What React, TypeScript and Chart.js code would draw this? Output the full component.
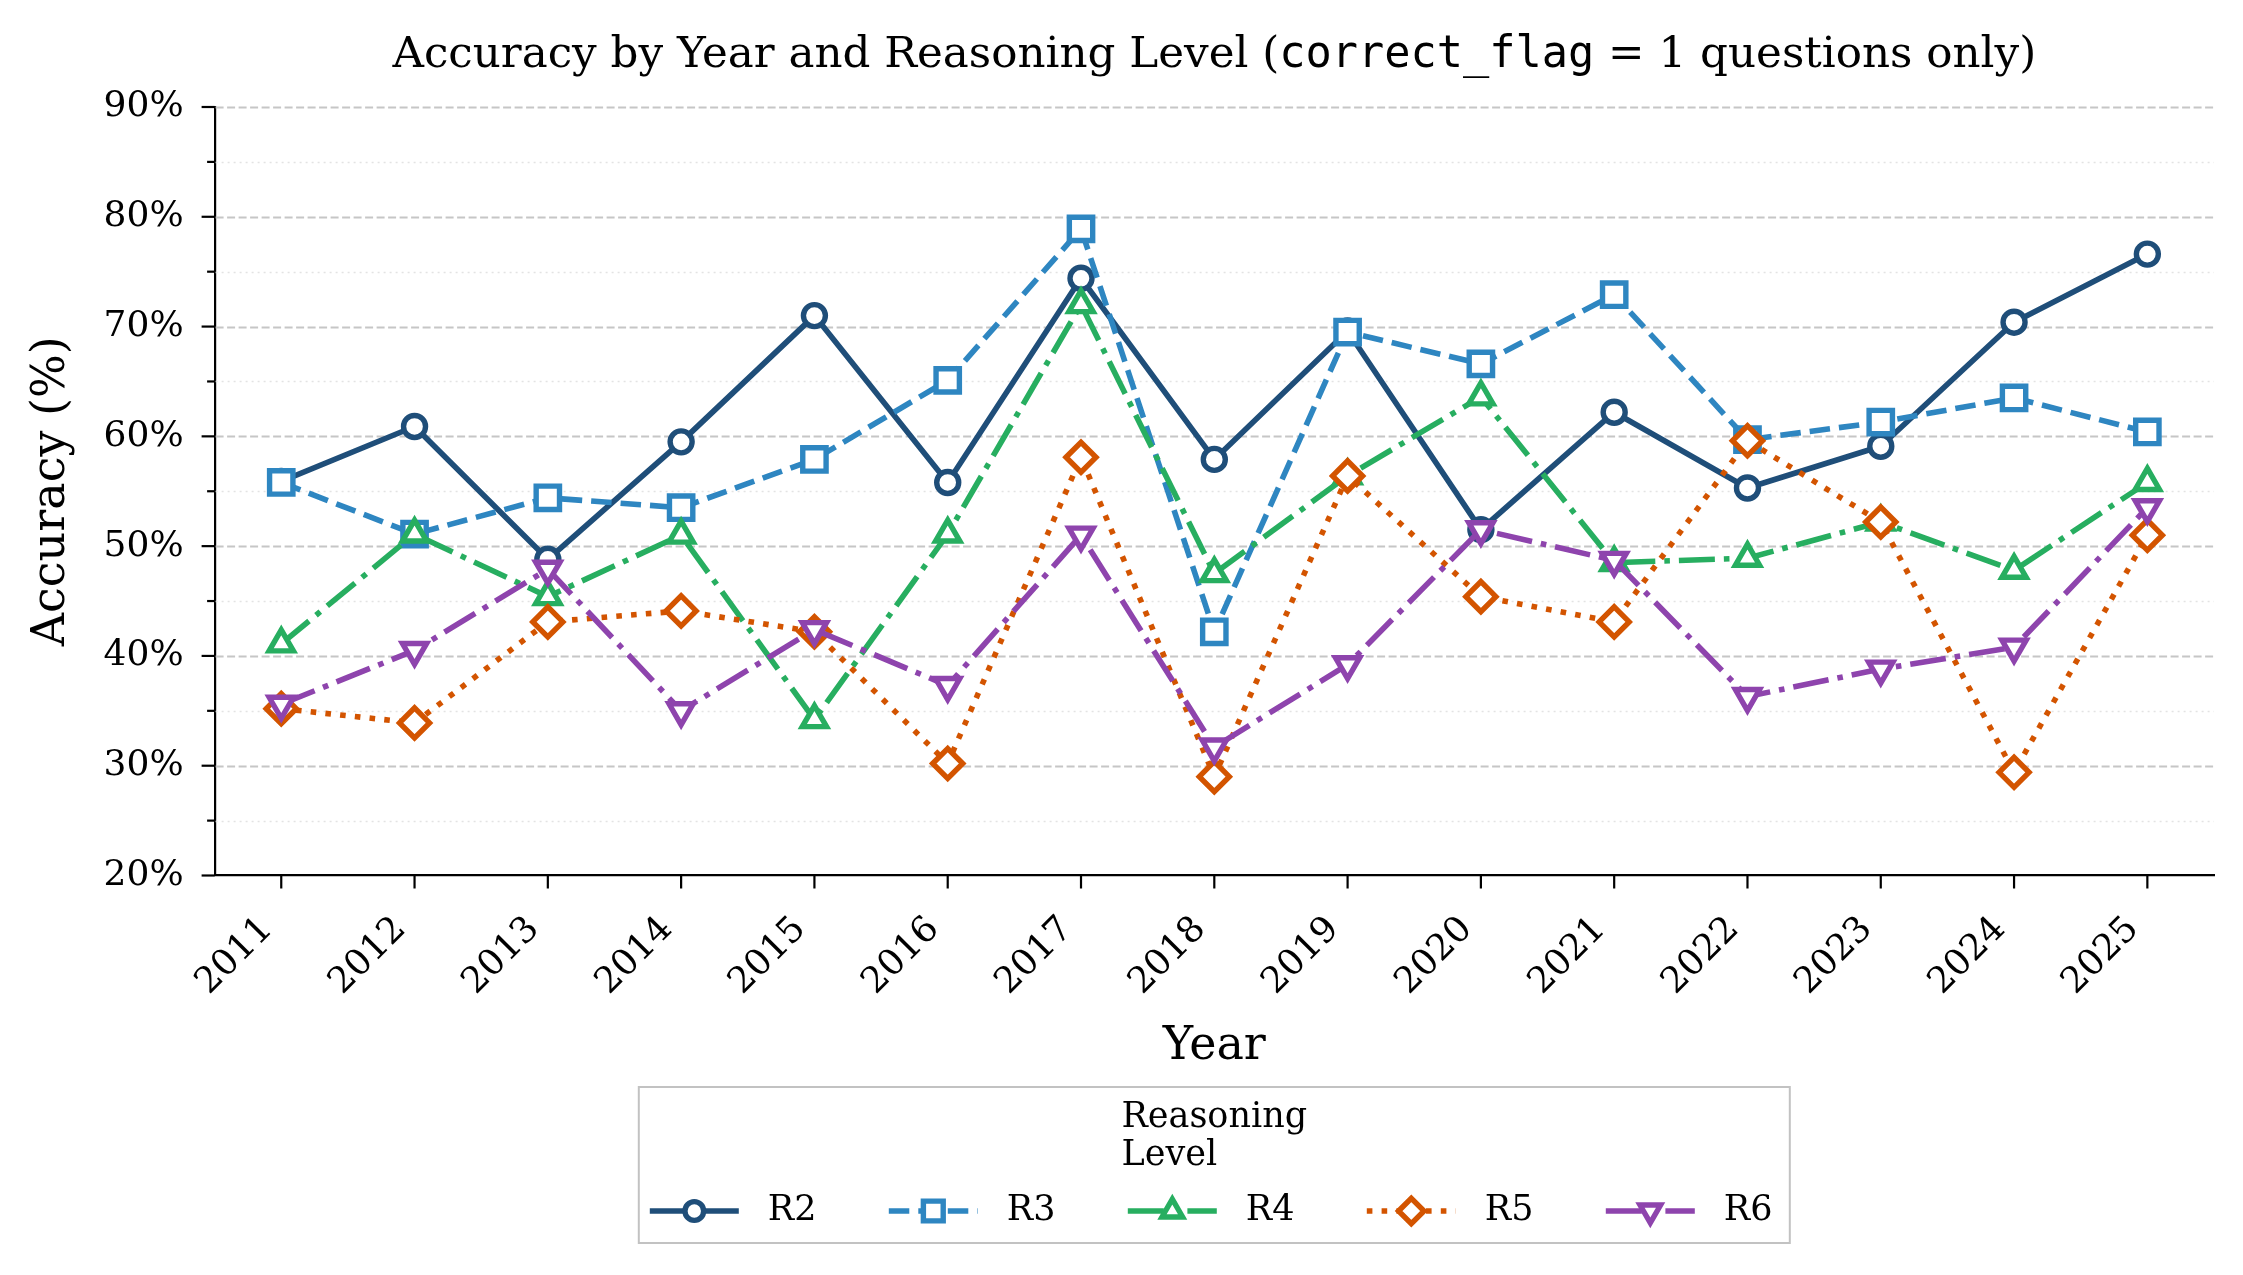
import React, { useEffect, useRef } from "react";
import { Chart, registerables } from "chart.js";

Chart.register(...registerables);

// ---- data ----
const years = ["2011", "2012", "2013", "2014", "2015", "2016", "2017", "2018", "2019", "2020", "2021", "2022", "2023", "2024", "2025"];
const levels = ["R2", "R3", "R4", "R5", "R6"];

const accR2 = [55.9, 60.9, 48.8, 59.5, 71.0, 55.8, 74.4, 57.9, 69.6, 51.5, 62.2, 55.3, 59.1, 70.4, 76.6];
const accR3 = [55.8, 51.1, 54.4, 53.5, 57.9, 65.1, 78.9, 42.2, 69.5, 66.6, 72.9, 59.7, 61.3, 63.5, 60.4];
const accR4 = [41.1, 51.1, 45.4, 51.0, 34.2, 51.1, 72.0, 47.5, 56.4, 63.6, 48.5, 48.9, 52.2, 47.8, 55.8];
const accR5 = [35.2, 33.9, 43.1, 44.1, 42.2, 30.2, 58.1, 29.0, 56.4, 45.4, 43.1, 59.6, 52.2, 29.4, 51.0];
const accR6 = [35.6, 40.5, 47.9, 35.0, 42.4, 37.3, 51.0, 31.7, 39.2, 51.5, 48.7, 36.3, 38.8, 40.8, 53.5];

const yMin = 20;
const yMax = 90;
const yMajorStep = 10;
const yMinorStep = 5;

const titleParts = [
  { text: "Accuracy by Year and Reasoning Level (", mono: false },
  { text: "correct_flag", mono: true },
  { text: " = 1 questions only)", mono: false },
];
const legendTitle = ["Reasoning", "Level"];

// ---- styles ----
const SERIF = '"DejaVu Serif", "Liberation Serif", serif';
const MONO = '"DejaVu Sans Mono", "Liberation Mono", monospace';

const COLORS = ["#1f4e79", "#2e86c1", "#27ae60", "#d35400", "#8e44ad"];
const DASHES = [[], [20.5, 9], [36, 9, 5.6, 9], [5.6, 9.2], [36, 9, 5.6, 9]];
const MARKERS = ["circle", "square", "triangle", "diamond", "triangleDown"];
const POINT_STYLE = ["circle", "rect", "triangle", "rectRot", "triangle"];
const POINT_ROTATION = [0, 0, 0, 0, 180];
const POINT_RADIUS = [11, 16.5, 14, 15, 14];
const LINE_W = 5.6;
const POINT_EDGE = 5.4;

const seriesValues = [accR2, accR3, accR4, accR5, accR6];

function markerPath(ctx: CanvasRenderingContext2D, kind: string, x: number, y: number, r: number) {
  ctx.beginPath();
  if (kind === "circle") {
    ctx.arc(x, y, r, 0, Math.PI * 2);
  } else if (kind === "square") {
    const s = r * Math.SQRT1_2;
    ctx.rect(x - s, y - s, 2 * s, 2 * s);
  } else if (kind === "diamond") {
    ctx.moveTo(x - r, y);
    ctx.lineTo(x, y - r);
    ctx.lineTo(x + r, y);
    ctx.lineTo(x, y + r);
    ctx.closePath();
  } else if (kind === "triangle") {
    ctx.moveTo(x, y - r);
    ctx.lineTo(x + 0.866 * r, y + 0.5 * r);
    ctx.lineTo(x - 0.866 * r, y + 0.5 * r);
    ctx.closePath();
  } else {
    ctx.moveTo(x, y + r);
    ctx.lineTo(x - 0.866 * r, y - 0.5 * r);
    ctx.lineTo(x + 0.866 * r, y - 0.5 * r);
    ctx.closePath();
  }
}

// grid lines and tick marks, drawn beneath the series
const axesDecor = {
  id: "axesDecor",
  beforeDatasetsDraw(chart: any) {
    const { ctx, chartArea: a, scales } = chart;
    const x = scales.x;
    const y = scales.y;
    ctx.save();
    for (let v = yMin + yMinorStep; v <= yMax; v += yMinorStep) {
      const py = Math.round(y.getPixelForValue(v)) + 0.5;
      const major = v % yMajorStep === 0;
      ctx.strokeStyle = major ? "#c6c6c6" : "#e3e3e3";
      ctx.lineWidth = major ? 1.8 : 1.6;
      ctx.setLineDash(major ? [8, 3.5] : [2, 4]);
      ctx.beginPath();
      ctx.moveTo(a.left + 1, py);
      ctx.lineTo(a.right, py);
      ctx.stroke();
    }
    ctx.setLineDash([]);
    ctx.strokeStyle = "#000";
    ctx.lineWidth = 2.2;
    for (let v = yMin; v <= yMax; v += yMinorStep) {
      const py = y.getPixelForValue(v);
      const len = v % yMajorStep === 0 ? 13 : 7.5;
      ctx.beginPath();
      ctx.moveTo(a.left - len, py);
      ctx.lineTo(a.left, py);
      ctx.stroke();
    }
    years.forEach((_, i) => {
      const px = x.getPixelForValue(i);
      ctx.beginPath();
      ctx.moveTo(px, a.bottom);
      ctx.lineTo(px, a.bottom + 13);
      ctx.stroke();
    });
    ctx.restore();
  },
};

// title with a monospace segment, and the legend box below the axes
const overlays = {
  id: "overlays",
  afterDraw(chart: any) {
    const { ctx, chartArea: a } = chart;
    const cx = (a.left + a.right) / 2;
    ctx.save();

    // title
    const tSize = 43.6;
    const widths = titleParts.map((p) => {
      ctx.font = `${tSize}px ${p.mono ? MONO : SERIF}`;
      return ctx.measureText(p.text).width;
    });
    const total = widths.reduce((s, w) => s + w, 0);
    let tx = cx - total / 2;
    const ty = a.top - 51;
    ctx.fillStyle = "#000";
    ctx.textBaseline = "middle";
    ctx.textAlign = "left";
    titleParts.forEach((p, i) => {
      ctx.font = `${tSize}px ${p.mono ? MONO : SERIF}`;
      ctx.fillText(p.text, tx, ty);
      tx += widths[i];
    });

    // legend
    const boxW = 1151;
    const boxH = 156;
    const bx = cx - boxW / 2;
    const by = a.bottom + 211.5;
    ctx.fillStyle = "#fff";
    ctx.fillRect(bx, by, boxW, boxH);
    ctx.strokeStyle = "#c2c2c2";
    ctx.lineWidth = 2;
    ctx.strokeRect(bx, by, boxW, boxH);

    ctx.font = `35px ${SERIF}`;
    ctx.fillStyle = "#000";
    const ltw = Math.max(...legendTitle.map((s) => ctx.measureText(s).width));
    const ltx = cx - ltw / 2;
    legendTitle.forEach((s, i) => ctx.fillText(s, ltx, by + 31 + i * 38));

    const rowY = by + 124;
    const step = 239;
    levels.forEach((name, i) => {
      const sx = bx + 11 + i * step;
      ctx.strokeStyle = COLORS[i];
      ctx.lineWidth = LINE_W;
      ctx.lineCap = "butt";
      ctx.setLineDash(DASHES[i]);
      ctx.beginPath();
      ctx.moveTo(sx, rowY);
      ctx.lineTo(sx + 89, rowY);
      ctx.stroke();
      ctx.setLineDash([]);
      ctx.lineJoin = "miter";
      markerPath(ctx, MARKERS[i], sx + 44.5, rowY, POINT_RADIUS[i] * 0.85);
      ctx.fillStyle = "#fff";
      ctx.fill();
      ctx.lineWidth = POINT_EDGE;
      ctx.stroke();
      ctx.fillStyle = "#000";
      ctx.font = `35px ${SERIF}`;
      ctx.fillText(name, sx + 118, rowY);
    });
    ctx.restore();
  },
};

export default function App() {
  const ref = useRef<HTMLCanvasElement | null>(null);

  useEffect(() => {
    document.body.style.margin = "0";
    const canvas = ref.current;
    if (!canvas) return;

    const datasets = levels.map((name, i) => ({
      label: name,
      data: seriesValues[i],
      borderColor: COLORS[i],
      backgroundColor: "#ffffff",
      borderWidth: LINE_W,
      borderDash: DASHES[i],
      borderCapStyle: i === 0 ? "square" : "butt",
      borderJoinStyle: "round",
      pointStyle: POINT_STYLE[i],
      pointRotation: POINT_ROTATION[i],
      pointRadius: POINT_RADIUS[i],
      pointHoverRadius: POINT_RADIUS[i],
      pointBorderWidth: POINT_EDGE,
      pointBorderColor: COLORS[i],
      pointBackgroundColor: "#ffffff",
      fill: false,
      tension: 0,
      order: levels.length - i,
    }));

    const chart = new Chart(canvas, {
      type: "line",
      data: { labels: years, datasets: datasets as any },
      options: {
        responsive: false,
        animation: false,
        events: [],
        layout: { padding: { top: 107, right: 29, left: 0, bottom: 0 } },
        plugins: {
          legend: { display: false },
          title: { display: false },
          tooltip: { enabled: false },
        },
        scales: {
          x: {
            type: "category",
            offset: true,
            grid: { display: true, drawOnChartArea: false, drawTicks: false },
            border: { display: true, color: "#000", width: 2.2 },
            ticks: {
              autoSkip: false,
              minRotation: 45,
              maxRotation: 45,
              padding: 33,
              labelOffset: -14,
              color: "#000",
              font: { family: SERIF, size: 36 },
            },
            title: {
              display: true,
              text: "Year",
              color: "#000",
              font: { family: SERIF, size: 46 },
              padding: { top: 0, bottom: 200 },
            },
            afterFit: (s: any) => {
              s.height = 399.5;
            },
          },
          y: {
            type: "linear",
            min: yMin,
            max: yMax,
            grid: { display: true, drawOnChartArea: false, drawTicks: false },
            border: { display: true, color: "#000", width: 2.2 },
            ticks: {
              stepSize: yMajorStep,
              padding: 31,
              color: "#000",
              font: { family: SERIF, size: 36 },
              callback: (v: any) => `${v}%`,
            },
            title: {
              display: true,
              text: "Accuracy (%)",
              color: "#000",
              font: { family: SERIF, size: 46 },
              padding: { top: 24, bottom: 0 },
            },
            afterFit: (s: any) => {
              s.width = 214.6;
            },
          },
        },
      } as any,
      plugins: [axesDecor, overlays],
    });

    return () => chart.destroy();
  }, []);

  return (
    <canvas
      ref={ref}
      width={2243}
      height={1275}
      style={{ display: "block", width: 2243, height: 1275 }}
    />
  );
}
